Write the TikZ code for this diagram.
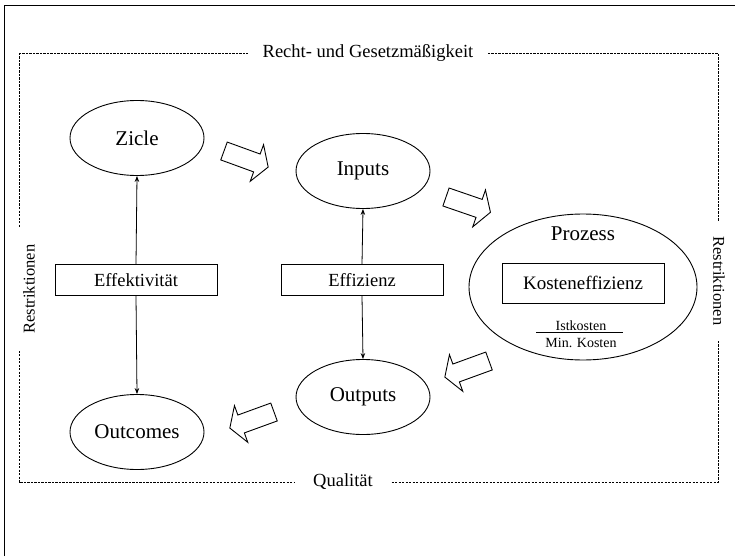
\documentclass[tikz,border=0pt]{standalone}
\usepackage{fontspec}
\setmainfont{Liberation Serif}
\usetikzlibrary{arrows.meta,shapes.geometric}
\begin{document}
\begin{tikzpicture}[x=1pt,y=-1pt,
  lbl/.style={font=\fontsize{18.5}{20}\selectfont},
  ell/.style={draw, ellipse, line width=0.9pt, minimum width=134pt, minimum height=75pt, inner sep=0pt, font=\fontsize{21}{23}\selectfont},
  box/.style={draw, rectangle, line width=0.9pt, minimum width=162pt, minimum height=31pt, inner sep=0pt, lbl},
  conn/.style={line width=0.8pt, -{Stealth[length=6pt,width=4.5pt]}},
  dashline/.style={line width=0.7pt, dash pattern=on 2.2pt off 1.3pt},
  edgelbl/.style={fill=white, inner xsep=15pt, inner ysep=4pt, lbl},
  blockarr/.pic={\draw[line width=0.9pt, fill=white, line join=miter]
     (0,-9.5) -- (35,-9.5) -- (35,-19.5) -- (47,0) -- (35,19.5) -- (35,9.5) -- (0,9.5) -- cycle;}
]
\useasboundingbox (0,0) rectangle (735,556);
% outer frame
\draw[line width=1pt] (4,556) -- (4,6) -- (735,6);
% dashed frame
\draw[dashline] (19,53) rectangle (718,482);
\node[edgelbl] (recht) at (368,53) {Recht- und Gesetzmäßigkeit};
\node[edgelbl, inner xsep=18pt] (qual) at (343,482) {Qualität};
\node[edgelbl, rotate=90, inner xsep=18pt, font=\fontsize{16.5}{18}\selectfont] (restl) at (29,289) {Restriktionen};
\node[edgelbl, rotate=-90, inner xsep=16pt, font=\fontsize{16.5}{18}\selectfont] (restr) at (719,281) {Restriktionen};
% ellipses
\node[ell] (ziele) at (137,138) {Zicle};
\node[ell] (inputs) at (363,171) {Inputs};
\node[ell] (outputs) at (363,397) {Outputs};
\node[ell] (outcomes) at (137,432) {Outcomes};
\node[ell, minimum width=228pt, minimum height=146pt] (prozess) at (583,287) {};
\node[font=\fontsize{21}{23}\selectfont] (ptitle) at (583,234) {Prozess};
\node[box, minimum height=40pt, font=\fontsize{19}{21}\selectfont] (kosten) at (583,283) {Kosteneffizienz};
\node[font=\fontsize{14}{16}\selectfont, inner sep=1pt] (ist) at (581,326) {Istkosten};
\node[font=\fontsize{14}{16}\selectfont, inner sep=1pt] (mink) at (581,343) {Min. Kosten};
\draw[line width=0.7pt] ([xshift=-45pt]ist.south) -- ([xshift=42pt]ist.south);
% boxes
\node[box] (effekt) at (136,280) {Effektivität};
\node[box] (effiz) at (362,280) {Effizienz};
% connectors
\draw[conn] (effekt.north) -- (ziele.south);
\draw[conn] (effekt.south) -- (outcomes.north);
\draw[conn] (effiz.north) -- (inputs.south);
\draw[conn] (effiz.south) -- (outputs.north);
% block arrows
\pic[rotate=-20] at (224,151) {blockarr};
\pic[rotate=-19] at (446,197) {blockarr};
\pic[rotate=200] at (489,361) {blockarr};
\pic[rotate=200] at (274,412) {blockarr};
\end{tikzpicture}
\end{document}
